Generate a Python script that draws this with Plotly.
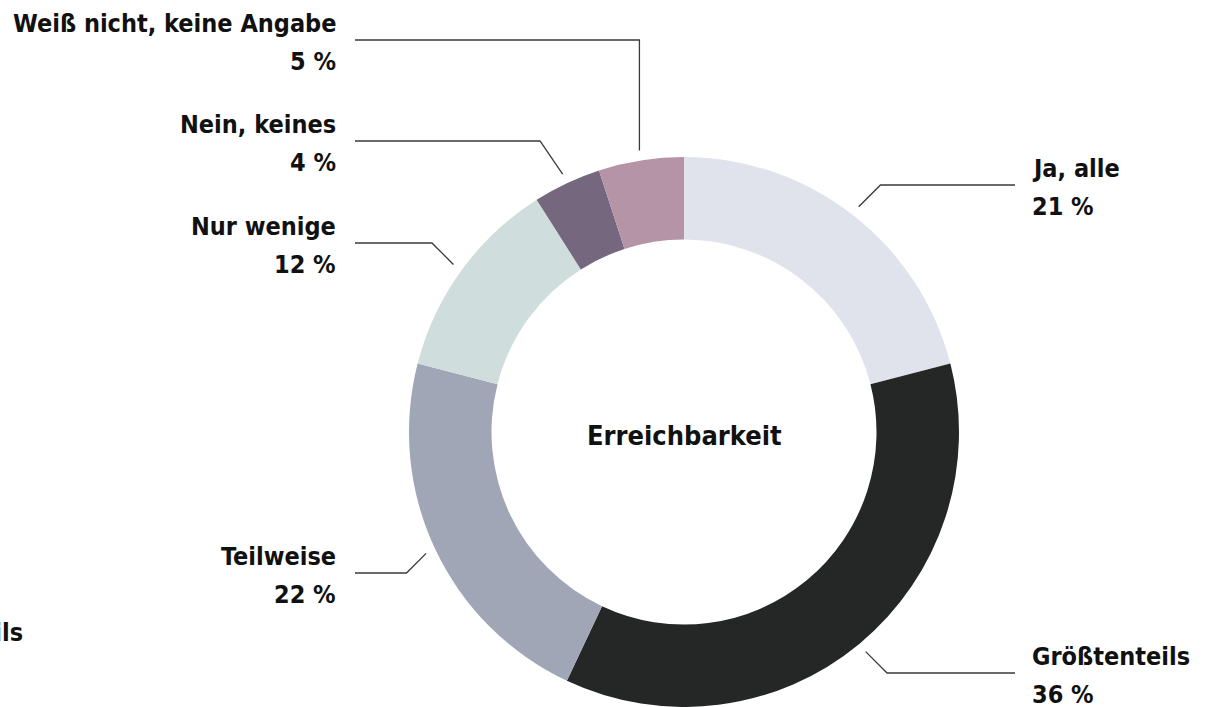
import math
import plotly.graph_objects as go

# ---- data ----
categories = ["Ja, alle", "Größtenteils", "Teilweise", "Nur wenige", "Nein, keines", "Weiß nicht, keine Angabe"]
values = [21, 36, 22, 12, 4, 5]
value_labels = ["21 %", "36 %", "22 %", "12 %", "4 %", "5 %"]
colors = ["#e1e3ec", "#252726", "#a0a6b5", "#cfdedc", "#75687e", "#b694a8"]
center_title = "Erreichbarkeit"

# ---- layout (pixels) ----
W, H = 1212, 707
CX, CY, R = 684, 432, 275
FONT = "Liberation Sans Narrow, DejaVu Sans Condensed, Arial Narrow, sans-serif"
FS = 25
# per label: side, y of horizontal leader, elbow x (None = 45 degree)
label_layout = [
    ("right", 185, None),
    ("right", 673, None),
    ("left", 573, None),
    ("left", 243, None),
    ("left", 141, 540),
    ("left", 40, None),
]
LEFT_END, RIGHT_END = 355, 1015
LEFT_TEXT, RIGHT_TEXT = 338, 1030

fig = go.Figure()
fig.add_trace(go.Pie(
    labels=categories, values=values, hole=0.70, sort=False, direction="clockwise",
    rotation=0, marker=dict(colors=colors, line=dict(width=0)), textinfo="none",
    hoverinfo="label+percent", showlegend=False,
    domain=dict(x=[(CX - R) / W, (CX + R) / W], y=[(H - CY - R) / H, (H - CY + R) / H]),
))

annotations = []
total = sum(values)
cum = 0
for i, v in enumerate(values):
    mid = (cum + v / 2) / total * 2 * math.pi
    cum += v
    x0 = CX + (R + 10) * math.sin(mid)
    y0 = CY - (R + 10) * math.cos(mid)
    side, ly, ex = label_layout[i]
    if ex is None:
        if abs(math.sin(mid)) < 0.2:
            ex = x0
        else:
            ex = x0 + (1 if side == "right" else -1) * abs(ly - y0)
    xend = RIGHT_END if side == "right" else LEFT_END
    fig.add_trace(go.Scatter(x=[x0, ex, xend], y=[y0, ly, ly], mode="lines",
                             line=dict(color="#3a3a3a", width=1.3), hoverinfo="skip",
                             showlegend=False, xaxis="x", yaxis="y"))
    tx = RIGHT_TEXT if side == "right" else LEFT_TEXT
    anchor = "left" if side == "right" else "right"
    for txt, dy in ((categories[i], -17), (value_labels[i], 21)):
        annotations.append(dict(x=tx, y=ly + dy, xref="x", yref="y", text="<b>" + txt + "</b>",
                                showarrow=False, xanchor=anchor, yanchor="middle",
                                font=dict(family=FONT, size=FS, color="#111111")))

annotations.append(dict(x=CX, y=CY + 3, xref="x", yref="y", text="<b>" + center_title + "</b>",
                        showarrow=False, xanchor="center", yanchor="middle",
                        font=dict(family=FONT, size=27, color="#111111")))
# clipped label from neighbouring chart at left edge
annotations.append(dict(x=25, y=632, xref="x", yref="y", text="<b>" + categories[1] + "</b>",
                        showarrow=False, xanchor="right", yanchor="middle",
                        font=dict(family=FONT, size=FS, color="#111111")))

fig.update_layout(
    width=W, height=H, margin=dict(l=0, r=0, t=0, b=0),
    paper_bgcolor="white", plot_bgcolor="rgba(0,0,0,0)",
    xaxis=dict(range=[0, W], visible=False, fixedrange=True),
    yaxis=dict(range=[H, 0], visible=False, fixedrange=True),
    annotations=annotations,
)
fig.write_html("out.html", config={"displayModeBar": False},
               post_script="document.body.style.margin='0';document.body.style.overflow='hidden';")
